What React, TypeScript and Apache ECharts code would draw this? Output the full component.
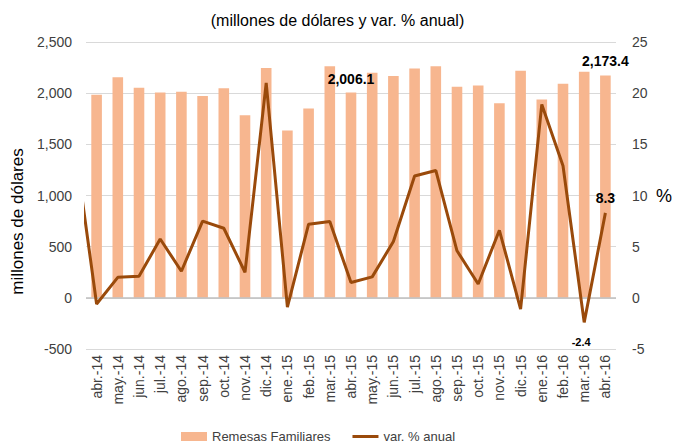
import React, { useEffect, useRef } from "react";
import * as echarts from "echarts";

const categories = [
  "abr.-14", "may.-14", "jun.-14", "jul.-14", "ago.-14", "sep.-14", "oct.-14", "nov.-14", "dic.-14",
  "ene.-15", "feb.-15", "mar.-15", "abr.-15", "may.-15", "jun.-15", "jul.-15", "ago.-15", "sep.-15",
  "oct.-15", "nov.-15", "dic.-15", "ene.-16", "feb.-16", "mar.-16", "abr.-16",
];

const remesas = [
  1985, 2155, 2053, 2007, 2015, 1972, 2049, 1784, 2245,
  1634, 1850, 2262, 2006.1, 2200, 2167, 2242, 2262, 2063,
  2075, 1902, 2220, 1938, 2092, 2210, 2173.4,
];

// variation of the month before the first category (mar.-14), drawn clipped at the plot edge
const varPrev = 14.5;
const variacion = [
  -0.6, 2.0, 2.1, 5.75, 2.6, 7.5, 6.8, 2.5, 21.0,
  -0.9, 7.2, 7.45, 1.5, 2.05, 5.5, 11.9, 12.45, 4.6,
  1.35, 6.6, -1.1, 18.9, 12.9, -2.4, 8.3,
];

const barLabelIdx = [12, 24];
const lineLabelIdx = [23, 24];

const FONT = "'Liberation Sans', Arial, sans-serif";
const BAR = "#F7B68F";
const LINE = "#9A4A0B";

export default function App() {
  const ref = useRef<HTMLDivElement>(null);
  useEffect(() => {
    if (!ref.current) return;
    const chart = echarts.init(ref.current, undefined, { renderer: "svg" });
    const lineData: any[] = [[-1, varPrev]].concat(
      variacion.map((v, i) => [i, v]) as any
    );
    const markPoints = lineLabelIdx.map((i) => {
      const v = variacion[i];
      const below = v < 0;
      return {
        coord: [i, v],
        value: v,
        symbol: "circle",
        symbolSize: 0,
        label: {
          show: true,
          position: below ? "bottom" : "top",
          distance: below ? 14 : 8,
          offset: below ? [-3, 0] : [0, 0],
          formatter: String(v),
          fontWeight: "bold",
          fontSize: below ? 11 : 14,
          color: "#000",
          fontFamily: FONT,
        },
      };
    });
    chart.setOption({
      animation: false,
      textStyle: { fontFamily: FONT },
      title: {
        text: "(millones de dólares y var. % anual)",
        left: "center",
        top: 7,
        textStyle: { fontFamily: FONT, fontSize: 16, fontWeight: "normal", color: "#000" },
      },
      legend: {
        top: 425,
        left: 176,
        itemWidth: 26,
        itemHeight: 9,
        itemGap: 22,
        textStyle: { fontFamily: FONT, fontSize: 13, color: "#404040" },
        data: [
          { name: "Remesas Familiares", icon: "rect" },
          { name: "var. % anual", icon: "path://M0,0 L26,0 L26,3 L0,3 Z" },
        ],
      },
      grid: { left: 86, right: 54, top: 42, bottom: 94, containLabel: false },
      xAxis: [
        {
          type: "category",
          data: categories,
          axisTick: { show: false },
          axisLine: { show: false },
          axisLabel: { rotate: 90, fontSize: 14, color: "#404040", fontFamily: FONT, margin: 6, interval: 0 },
        },
        {
          type: "value",
          min: -0.5,
          max: 24.5,
          show: false,
        },
      ],
      yAxis: [
        {
          type: "value",
          min: -500,
          max: 2500,
          interval: 500,
          name: "millones de dólares",
          nameLocation: "middle",
          nameGap: 58,
          nameTextStyle: { fontSize: 17, color: "#000", fontFamily: FONT, padding: [0, 52, 0, 0] },
          axisLabel: {
            fontSize: 14,
            color: "#404040",
            fontFamily: FONT,
            margin: 14,
            formatter: (v: number) => v.toLocaleString("en-US"),
          },
          axisLine: { show: false },
          axisTick: { show: false },
          splitLine: { lineStyle: { color: "#D9D9D9", width: 1 } },
        },
        {
          type: "value",
          min: -5,
          max: 25,
          interval: 5,
          name: "%",
          nameLocation: "middle",
          nameRotate: 0,
          nameGap: 40,
          nameTextStyle: { fontSize: 18, color: "#000", fontFamily: FONT },
          axisLabel: { fontSize: 14, color: "#404040", fontFamily: FONT, margin: 16 },
          axisLine: { show: false },
          axisTick: { show: false },
          splitLine: { show: false },
        },
      ],
      series: [
        {
          name: "Remesas Familiares",
          type: "bar",
          xAxisIndex: 0,
          yAxisIndex: 0,
          barWidth: "50%",
          itemStyle: { color: BAR },
          data: remesas.map((v, i) =>
            barLabelIdx.includes(i)
              ? {
                  value: v,
                  label: {
                    show: true,
                    position: "top",
                    distance: 7,
                    fontWeight: "bold",
                    fontSize: 14,
                    color: "#000",
                    fontFamily: FONT,
                    formatter: (p: any) =>
                      Number(p.value).toLocaleString("en-US", { minimumFractionDigits: 1, maximumFractionDigits: 1 }),
                  },
                }
              : v
          ),
          markLine: {
            silent: true,
            symbol: "none",
            label: { show: false },
            lineStyle: { color: "#BFBFBF", type: "solid", width: 1.5 },
            data: [{ yAxis: 0 }],
          },
        },
        {
          name: "var. % anual",
          type: "line",
          xAxisIndex: 1,
          yAxisIndex: 1,
          showSymbol: false,
          symbol: "none",
          clip: true,
          lineStyle: { color: LINE, width: 3 },
          itemStyle: { color: LINE },
          data: lineData,
          markPoint: { silent: true, data: markPoints },
          z: 5,
        },
      ],
    });
    return () => chart.dispose();
  }, []);
  return <div ref={ref} style={{ width: 675, height: 443, position: "absolute", left: 0, top: 0 }} />;
}
